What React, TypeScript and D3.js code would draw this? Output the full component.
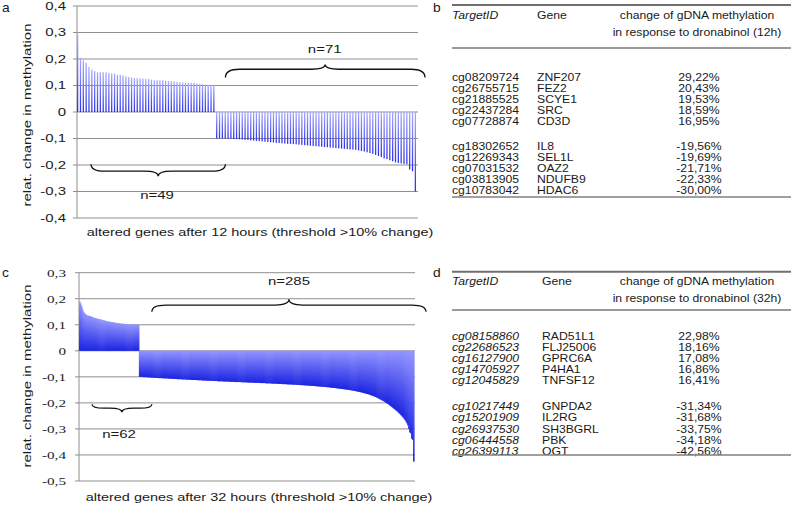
import React from 'react';
import * as d3 from 'd3';

// ---------- Panel a (12 h) ----------
const posA = [
  0.2922, 0.2043, 0.1953, 0.1859, 0.1695, 0.16, 0.155, 0.15, 0.15, 0.15,
  0.15, 0.148, 0.146, 0.145, 0.14, 0.14, 0.138, 0.135, 0.132, 0.13,
  0.128, 0.128, 0.127, 0.126, 0.125, 0.124, 0.122, 0.12, 0.12, 0.12,
  0.12, 0.118, 0.117, 0.116, 0.115, 0.113, 0.112, 0.111, 0.11, 0.11,
  0.11, 0.11, 0.108, 0.106, 0.105, 0.103, 0.102, 0.101, 0.1,
];
const negA = [
  -0.1, -0.1, -0.1, -0.1, -0.101, -0.101, -0.102, -0.102, -0.103, -0.104,
  -0.105, -0.106, -0.107, -0.108, -0.109, -0.11, -0.111, -0.112, -0.113, -0.114,
  -0.115, -0.116, -0.117, -0.118, -0.119, -0.12, -0.12, -0.121, -0.122, -0.123,
  -0.124, -0.125, -0.126, -0.127, -0.128, -0.129, -0.13, -0.131, -0.132, -0.133,
  -0.134, -0.135, -0.136, -0.137, -0.138, -0.139, -0.14, -0.141, -0.142, -0.143,
  -0.145, -0.147, -0.149, -0.152, -0.155, -0.158, -0.162, -0.166, -0.17, -0.175,
  -0.178, -0.182, -0.186, -0.19, -0.192, -0.194, -0.1956, -0.1969, -0.2171, -0.2233,
  -0.3,
];
const ticksA = [0.4, 0.3, 0.2, 0.1, 0, -0.1, -0.2, -0.3, -0.4];
const tickLabelsA = ['0,4', '0,3', '0,2', '0,1', '0', '-0,1', '-0,2', '-0,3', '-0,4'];

// ---------- Panel c (32 h) ----------
const posC = [
  0.19, 0.182, 0.172, 0.16, 0.15, 0.145, 0.141, 0.138, 0.136, 0.135,
  0.134, 0.133, 0.132, 0.13, 0.128, 0.127, 0.126, 0.125, 0.124, 0.123,
  0.122, 0.121, 0.12, 0.119, 0.118, 0.117, 0.116, 0.115, 0.114, 0.113,
  0.112, 0.112, 0.111, 0.11, 0.11, 0.109, 0.108, 0.108, 0.107, 0.107,
  0.106, 0.106, 0.105, 0.105, 0.104, 0.104, 0.104, 0.103, 0.103, 0.103,
  0.102, 0.102, 0.102, 0.101, 0.101, 0.101, 0.101, 0.1, 0.1, 0.1,
  0.1, 0.1,
];
const negC = [
  -0.1, -0.1, -0.1, -0.1, -0.101, -0.101, -0.101, -0.101, -0.102, -0.102,
  -0.102, -0.102, -0.103, -0.103, -0.103, -0.103, -0.104, -0.104, -0.104, -0.104,
  -0.105, -0.105, -0.105, -0.105, -0.105, -0.106, -0.106, -0.106, -0.106, -0.106,
  -0.107, -0.107, -0.107, -0.107, -0.108, -0.108, -0.108, -0.108, -0.108, -0.109,
  -0.109, -0.109, -0.109, -0.109, -0.11, -0.11, -0.11, -0.11, -0.11, -0.111,
  -0.111, -0.111, -0.111, -0.111, -0.112, -0.112, -0.112, -0.112, -0.112, -0.112,
  -0.113, -0.113, -0.113, -0.113, -0.113, -0.114, -0.114, -0.114, -0.114, -0.114,
  -0.115, -0.115, -0.115, -0.115, -0.115, -0.115, -0.116, -0.116, -0.116, -0.116,
  -0.116, -0.117, -0.117, -0.117, -0.117, -0.117, -0.117, -0.118, -0.118, -0.118,
  -0.118, -0.118, -0.118, -0.119, -0.119, -0.119, -0.119, -0.119, -0.119, -0.12,
  -0.12, -0.12, -0.12, -0.12, -0.12, -0.12, -0.121, -0.121, -0.121, -0.121,
  -0.121, -0.121, -0.122, -0.122, -0.122, -0.122, -0.122, -0.122, -0.123, -0.123,
  -0.123, -0.123, -0.123, -0.123, -0.123, -0.124, -0.124, -0.124, -0.124, -0.124,
  -0.124, -0.125, -0.125, -0.125, -0.125, -0.125, -0.125, -0.126, -0.126, -0.126,
  -0.126, -0.126, -0.126, -0.127, -0.127, -0.127, -0.127, -0.127, -0.128, -0.128,
  -0.128, -0.128, -0.128, -0.129, -0.129, -0.129, -0.129, -0.129, -0.13, -0.13,
  -0.13, -0.13, -0.13, -0.131, -0.131, -0.131, -0.131, -0.132, -0.132, -0.132,
  -0.132, -0.133, -0.133, -0.133, -0.133, -0.134, -0.134, -0.134, -0.135, -0.135,
  -0.135, -0.135, -0.136, -0.136, -0.136, -0.137, -0.137, -0.137, -0.138, -0.138,
  -0.138, -0.139, -0.139, -0.139, -0.14, -0.14, -0.14, -0.141, -0.141, -0.142,
  -0.142, -0.142, -0.143, -0.143, -0.144, -0.144, -0.145, -0.145, -0.146, -0.146,
  -0.147, -0.147, -0.148, -0.148, -0.149, -0.149, -0.15, -0.15, -0.151, -0.152,
  -0.152, -0.153, -0.154, -0.154, -0.155, -0.156, -0.157, -0.157, -0.158, -0.159,
  -0.16, -0.161, -0.162, -0.163, -0.164, -0.165, -0.166, -0.167, -0.168, -0.17,
  -0.171, -0.172, -0.174, -0.175, -0.177, -0.178, -0.18, -0.182, -0.184, -0.186,
  -0.188, -0.19, -0.192, -0.194, -0.196, -0.199, -0.201, -0.204, -0.206, -0.209,
  -0.212, -0.215, -0.218, -0.221, -0.224, -0.227, -0.23, -0.233, -0.237, -0.24,
  -0.244, -0.248, -0.252, -0.256, -0.261, -0.266, -0.272, -0.279, -0.287, -0.3,
  -0.3134, -0.3168, -0.3375, -0.3418, -0.4256,
];
const ticksC = [0.3, 0.2, 0.1, 0, -0.1, -0.2, -0.3, -0.4, -0.5];
const tickLabelsC = ['0,3', '0,2', '0,1', '0', '-0,1', '-0,2', '-0,3', '-0,4', '-0,5'];

// ---------- Tables ----------
const idsB = ['cg08209724', 'cg26755715', 'cg21885525', 'cg22437284', 'cg07728874', 'cg18302652', 'cg12269343', 'cg07031532', 'cg03813905', 'cg10783042'];
const genesB = ['ZNF207', 'FEZ2', 'SCYE1', 'SRC', 'CD3D', 'IL8', 'SEL1L', 'OAZ2', 'NDUFB9', 'HDAC6'];
const valuesB = ['29,22%', '20,43%', '19,53%', '18,59%', '16,95%', '-19,56%', '-19,69%', '-21,71%', '-22,33%', '-30,00%'];

const idsD = ['cg08158860', 'cg22686523', 'cg16127900', 'cg14705927', 'cg12045829', 'cg10217449', 'cg15201909', 'cg26937530', 'cg06444558', 'cg26399113'];
const genesD = ['RAD51L1', 'FLJ25006', 'GPRC6A', 'P4HA1', 'TNFSF12', 'GNPDA2', 'IL2RG', 'SH3BGRL', 'PBK', 'OGT'];
const valuesD = ['22,98%', '18,16%', '17,08%', '16,86%', '16,41%', '-31,34%', '-31,68%', '-33,75%', '-34,18%', '-42,56%'];

const SANS = '"Liberation Sans", Arial, sans-serif';
const SERIF = '"Liberation Serif", "Times New Roman", serif';
const TXT = '#1a1a1a';
const GRID = '#8f8f8f';

type TProps = {
  x: number; y: number; children: React.ReactNode; size?: number; sx?: number;
  anchor?: 'start' | 'middle' | 'end'; family?: string; rotate?: number; dy?: string; italic?: boolean;
};
function T({ x, y, children, size = 11, sx = 1.36, anchor = 'start', family = SANS, rotate = 0, dy = '0', italic = false }: TProps) {
  return (
    <text transform={`translate(${x},${y}) rotate(${rotate}) scale(${sx},1)`} textAnchor={anchor} dy={dy}
      fontFamily={family} fontSize={size} fontStyle={italic ? 'italic' : 'normal'} fill={TXT}>
      {children}
    </text>
  );
}

function bracePath(x1: number, x2: number, y: number, dir: number, a: number, b: number) {
  const ym = y + dir * a;
  const yt = ym + dir * b;
  const mid = (x1 + x2) / 2;
  const r = Math.min(14, (x2 - x1) / 5);
  return `M${x1},${y} Q${x1},${ym} ${x1 + r},${ym} L${mid - r},${ym} Q${mid},${ym} ${mid},${yt} Q${mid},${ym} ${mid + r},${ym} L${x2 - r},${ym} Q${x2},${ym} ${x2},${y}`;
}

type PanelProps = {
  values: number[];
  yDomain: [number, number];
  yRange: [number, number];
  xRange: [number, number];
  gridRight: number;
  ticks: number[];
  tickLabels: string[];
  tickFont: string;
  tickSx: number;
  padding: number;
  grad: string;
  thin: boolean;
};

function BarPanel(p: PanelProps) {
  const y = d3.scaleLinear().domain(p.yDomain).range(p.yRange);
  const x = d3.scaleBand<number>().domain(d3.range(p.values.length)).range(p.xRange).paddingInner(p.padding).paddingOuter(0);
  const x0 = p.xRange[0];
  return (
    <g>
      {p.ticks.map((t, i) => (
        <g key={i}>
          <line x1={x0 - 4} x2={p.gridRight} y1={y(t)} y2={y(t)} stroke={GRID} strokeWidth={1} />
          <T x={66} y={y(t)} dy="0.36em" anchor="end" family={p.tickFont} size={11} sx={p.tickSx}>
            {p.tickLabels[i]}
          </T>
        </g>
      ))}
      <line x1={x0} x2={x0} y1={y(p.yDomain[1])} y2={y(p.yDomain[0])} stroke={GRID} strokeWidth={1} />
      {p.values.map((v, i) => {
        const top = y(Math.max(0, v));
        const bot = y(Math.min(0, v));
        const w = p.thin ? x.bandwidth() : x.bandwidth() + 0.6;
        return <rect key={i} x={x(i)!} y={top} width={w} height={Math.max(0.5, bot - top)} fill={`url(#${p.grad})`} />;
      })}
    </g>
  );
}

function Table(props: { top: number; title2: string; ids: string[]; genes: string[]; vals: string[]; italicIds: boolean; geneX: number; rowStart: number; row2Start: number; bottom: number; headerRule: number }) {
  const p = props;
  const step = 11.2;
  const rowY = (i: number) => (i < 5 ? p.rowStart + i * step : p.row2Start + (i - 5) * step);
  const S = 1.22;
  return (
    <g>
      <line x1={452} x2={791} y1={p.top} y2={p.top} stroke="#6f6f6f" strokeWidth={2} />
      <T x={452} y={p.top + 10} dy="0.35em" size={10} sx={S} italic>TargetID</T>
      <T x={p.geneX} y={p.top + 10} dy="0.35em" size={10} sx={S}>Gene</T>
      <T x={697} y={p.top + 10} dy="0.35em" size={10} sx={S} anchor="middle">change of gDNA methylation</T>
      <T x={697} y={p.top + 27} dy="0.35em" size={10} sx={S} anchor="middle">{p.title2}</T>
      <line x1={452} x2={791} y1={p.headerRule} y2={p.headerRule} stroke="#9a9a9a" strokeWidth={2} />
      {p.ids.map((id, i) => (
        <g key={i}>
          <T x={452} y={rowY(i)} dy="0.35em" size={10} sx={S} italic={p.italicIds}>{id}</T>
          <T x={p.geneX} y={rowY(i)} dy="0.35em" size={10} sx={S}>{p.genes[i]}</T>
          <T x={699} y={rowY(i)} dy="0.35em" size={10} sx={S} anchor="middle">{p.vals[i]}</T>
        </g>
      ))}
      <line x1={452} x2={791} y1={p.bottom} y2={p.bottom} stroke="#808080" strokeWidth={1.5} />
    </g>
  );
}

export default function App() {
  const valsA = [...posA, ...negA];
  const valsC = [...posC, ...negC];

  const xA = d3.scaleLinear().domain([0, valsA.length]).range([77, 416]);
  const yA = d3.scaleLinear().domain([-0.4, 0.4]).range([218, 6]);
  const xC = d3.scaleLinear().domain([0, valsC.length]).range([79, 414]);
  const yC = d3.scaleLinear().domain([-0.5, 0.3]).range([481, 272.7]);

  const nA1 = posA.length;
  const nC1 = posC.length;

  return (
    <svg width={791} height={507} style={{ position: 'absolute', left: 0, top: 0, background: '#fff' }}>
      <defs>
        <linearGradient id="gA" x1="0" y1="0" x2="0" y2="1">
          <stop offset="0" stopColor="#a9abff" />
          <stop offset="1" stopColor="#2a30ea" />
        </linearGradient>
        <linearGradient id="gC" x1="0" y1="0" x2="0" y2="1">
          <stop offset="0" stopColor="#9294ff" />
          <stop offset="1" stopColor="#1c24e2" />
        </linearGradient>
      </defs>
      <rect x={0} y={0} width={791} height={507} fill="#fff" />

      {/* Panel a */}
      <T x={2} y={12} size={12} sx={1.15}>a</T>
      <BarPanel values={valsA} yDomain={[-0.4, 0.4]} yRange={[218, 6]} xRange={[77, 416]} gridRight={418}
        ticks={ticksA} tickLabels={tickLabelsA} tickFont={SANS} tickSx={1.36} padding={0.55} grad="gA" thin={true} />
      <T x={31} y={115} rotate={-90} anchor="middle" size={11} sx={1.36}>relat. change in methylation</T>
      <T x={260} y={236} anchor="middle" size={10.8} sx={1.34}>altered genes after 12 hours (threshold &gt;10% change)</T>
      <path d={bracePath(xA(nA1) + 10, xA(valsA.length) + 9, yA(0.13), -1, 8.3, 4.7)} fill="none" stroke="#111" strokeWidth={1.3} />
      <T x={(xA(nA1) + xA(valsA.length)) / 2 + 9} y={53} anchor="middle" size={11} sx={1.36}>n=71</T>
      <path d={bracePath(xA(0) + 14, xA(nA1) + 10, yA(-0.197), 1, 7, 5)} fill="none" stroke="#111" strokeWidth={1.3} />
      <T x={157} y={199} anchor="middle" size={11} sx={1.36}>n=49</T>

      {/* Panel b */}
      <T x={433} y={12} size={12} sx={1.15}>b</T>
      <Table top={5} title2="in response to dronabinol (12h)" ids={idsB} genes={genesB} vals={valuesB} italicIds={false}
        geneX={537} rowStart={77} row2Start={146} bottom={197} headerRule={48} />

      {/* Panel c */}
      <T x={2} y={277} size={12} sx={1.15}>c</T>
      <BarPanel values={valsC} yDomain={[-0.5, 0.3]} yRange={[481, 272.7]} xRange={[79, 414]} gridRight={415}
        ticks={ticksC} tickLabels={tickLabelsC} tickFont={SERIF} tickSx={1.38} padding={0} grad="gC" thin={false} />
      <T x={31} y={376} rotate={-90} anchor="middle" size={11} sx={1.36}>relat. change in methylation</T>
      <T x={259} y={501} anchor="middle" size={10.8} sx={1.34}>altered genes after 32 hours (threshold &gt;10% change)</T>
      <path d={bracePath(xC(nC1) + 13, xC(valsC.length) + 12, yC(0.15), -1, 6.7, 5.7)} fill="none" stroke="#111" strokeWidth={1.3} />
      <T x={289} y={285} anchor="middle" size={11} sx={1.36}>n=285</T>
      <path d={bracePath(xC(0) + 13, xC(nC1) + 13, yC(-0.205), 1, 4, 4)} fill="none" stroke="#111" strokeWidth={1.3} />
      <T x={119} y={438} anchor="middle" size={11} sx={1.36}>n=62</T>

      {/* Panel d */}
      <T x={433} y={277} size={12} sx={1.15}>d</T>
      <Table top={271.7} title2="in response to dronabinol (32h)" ids={idsD} genes={genesD} vals={valuesD} italicIds={true}
        geneX={542} rowStart={336} row2Start={406.7} bottom={455} headerRule={310} />
    </svg>
  );
}
